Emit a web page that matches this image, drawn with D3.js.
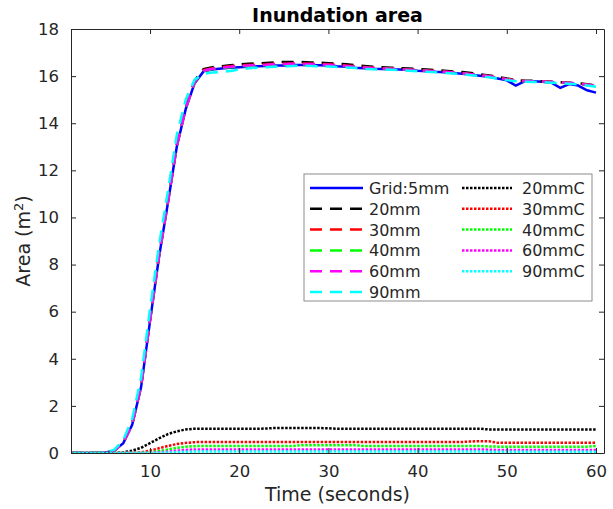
<!DOCTYPE html>
<html>
<head>
<meta charset="utf-8">
<script src="https://cdn.jsdelivr.net/npm/d3@7"></script>
<style>
  body { margin: 0; background: #fff; }
  text { font-family: "DejaVu Sans", sans-serif; }
</style>
</head>
<body>
<div id="chart"></div>
<script>
// time axis (seconds)
const time = [1,2,3,4,5,6,7,8,9,10,11,12,13,14,15,16,17,18,19,20,
  21,22,23,24,25,26,27,28,29,30,31,32,33,34,35,36,37,38,39,40,
  41,42,43,44,45,46,47,48,49,50,51,52,53,54,55,56,57,58,59,60];

// reference grid
const grid5 = [0,0,0,0,0.02,0.1,0.42,1.2,2.8,5.6,8.3,10.6,13.0,14.6,15.7,16.2,16.28,16.32,16.35,16.38,
  16.4,16.42,16.43,16.45,16.45,16.47,16.47,16.46,16.46,16.45,16.42,16.4,16.36,16.33,16.31,16.3,16.29,16.28,16.26,16.23,
  16.21,16.18,16.16,16.13,16.1,16.06,16.02,15.97,15.9,15.82,15.6,15.78,15.78,15.76,15.72,15.5,15.66,15.6,15.4,15.3];

// dashed runs
const mm20 = [0,0,0,0,0.02,0.1,0.45,1.25,2.9,5.7,8.4,10.7,13.1,14.7,15.8,16.3,16.38,16.42,16.46,16.5,
  16.52,16.54,16.56,16.58,16.6,16.6,16.6,16.58,16.57,16.55,16.52,16.5,16.46,16.43,16.4,16.38,16.36,16.34,16.32,16.3,
  16.28,16.25,16.23,16.2,16.17,16.13,16.08,16.03,15.97,15.9,15.84,15.8,15.8,15.78,15.76,15.74,15.72,15.7,15.66,15.6];
const mm30 = [0,0,0,0,0.02,0.1,0.44,1.22,2.85,5.65,8.35,10.65,13.05,14.65,15.75,16.25,16.33,16.38,16.42,16.45,
  16.47,16.49,16.5,16.52,16.53,16.54,16.54,16.53,16.52,16.5,16.47,16.45,16.42,16.39,16.36,16.34,16.32,16.3,16.28,16.26,
  16.24,16.21,16.19,16.16,16.13,16.09,16.05,16.0,15.94,15.87,15.82,15.79,15.78,15.77,15.75,15.73,15.71,15.68,15.64,15.58];
const mm40 = [0,0,0,0,0.02,0.1,0.44,1.22,2.85,5.65,8.35,10.65,13.05,14.65,15.75,16.22,16.3,16.35,16.38,16.41,
  16.43,16.45,16.46,16.48,16.49,16.5,16.5,16.49,16.48,16.46,16.44,16.42,16.39,16.36,16.33,16.31,16.3,16.28,16.26,16.24,
  16.22,16.19,16.17,16.14,16.11,16.07,16.03,15.98,15.92,15.86,15.8,15.78,15.77,15.76,15.74,15.72,15.7,15.67,15.62,15.57];
const mm60 = [0,0,0,0,0.02,0.1,0.44,1.22,2.85,5.65,8.35,10.65,13.05,14.65,15.75,16.23,16.31,16.36,16.4,16.43,
  16.45,16.47,16.48,16.5,16.51,16.52,16.52,16.51,16.5,16.48,16.45,16.43,16.4,16.37,16.34,16.32,16.31,16.29,16.27,16.25,
  16.23,16.2,16.18,16.15,16.12,16.08,16.04,15.99,15.93,15.86,15.81,15.79,15.78,15.77,15.75,15.73,15.71,15.68,15.63,15.58];
const mm90 = [0,0,0,0,0.03,0.14,0.55,1.45,3.2,6.1,8.8,11.1,13.5,15.0,15.85,16.1,16.15,16.18,16.22,16.28,
  16.33,16.36,16.38,16.4,16.42,16.43,16.44,16.43,16.42,16.41,16.39,16.37,16.34,16.31,16.29,16.28,16.27,16.25,16.23,16.21,
  16.19,16.16,16.14,16.11,16.08,16.04,16.0,15.95,15.89,15.83,15.78,15.76,15.75,15.74,15.72,15.7,15.68,15.65,15.6,15.55];

// dotted runs (C)
const mm20C = [0,0,0,0,0,0,0.03,0.1,0.22,0.42,0.62,0.8,0.92,1.0,1.03,1.03,1.03,1.03,1.03,1.03,
  1.03,1.03,1.04,1.06,1.06,1.06,1.06,1.06,1.06,1.05,1.03,1.03,1.03,1.03,1.03,1.03,1.03,1.03,1.03,1.03,
  1.03,1.03,1.03,1.03,1.03,1.03,1.03,1.0,1.0,1.0,1.0,1.0,1.0,1.0,1.0,1.0,1.0,1.0,1.0,1.0];
const mm30C = [0,0,0,0,0,0,0,0.01,0.03,0.1,0.2,0.3,0.38,0.43,0.46,0.47,0.47,0.47,0.47,0.47,
  0.47,0.47,0.47,0.47,0.47,0.47,0.47,0.47,0.47,0.47,0.47,0.47,0.47,0.47,0.47,0.47,0.47,0.47,0.47,0.47,
  0.47,0.47,0.47,0.47,0.47,0.49,0.5,0.5,0.43,0.43,0.43,0.43,0.43,0.43,0.43,0.43,0.43,0.43,0.43,0.43];
const mm40C = [0,0,0,0,0,0,0,0,0.01,0.03,0.08,0.15,0.22,0.27,0.29,0.3,0.3,0.3,0.3,0.3,
  0.3,0.3,0.3,0.3,0.3,0.3,0.33,0.33,0.33,0.33,0.33,0.33,0.33,0.3,0.3,0.3,0.3,0.3,0.3,0.3,
  0.3,0.3,0.3,0.3,0.3,0.3,0.3,0.28,0.27,0.27,0.27,0.27,0.27,0.27,0.27,0.27,0.27,0.27,0.27,0.3];
const mm60C = [0,0,0,0,0,0,0,0,0,0.01,0.03,0.06,0.1,0.13,0.15,0.15,0.15,0.15,0.15,0.15,
  0.15,0.15,0.15,0.15,0.15,0.15,0.15,0.15,0.15,0.15,0.15,0.15,0.15,0.15,0.15,0.15,0.15,0.15,0.15,0.15,
  0.15,0.15,0.15,0.15,0.15,0.15,0.15,0.14,0.13,0.13,0.13,0.13,0.13,0.13,0.13,0.13,0.13,0.13,0.13,0.13];
const mm90C = [0,0,0,0,0,0,0,0,0,0,0.01,0.02,0.04,0.05,0.06,0.06,0.06,0.06,0.06,0.06,
  0.06,0.06,0.06,0.06,0.06,0.06,0.06,0.06,0.06,0.06,0.06,0.06,0.06,0.06,0.06,0.06,0.06,0.06,0.06,0.06,
  0.06,0.06,0.06,0.06,0.06,0.06,0.06,0.05,0.05,0.05,0.05,0.05,0.05,0.05,0.05,0.05,0.05,0.05,0.05,0.05];

const xTicks = [10, 20, 30, 40, 50, 60];
const yTicks = [0, 2, 4, 6, 8, 10, 12, 14, 16, 18];

const series = [
  {name: "Grid:5mm", values: grid5, color: "#0000ff", style: "solid"},
  {name: "20mm", values: mm20, color: "#000000", style: "dash"},
  {name: "30mm", values: mm30, color: "#ff0000", style: "dash"},
  {name: "40mm", values: mm40, color: "#00ff00", style: "dash"},
  {name: "60mm", values: mm60, color: "#ff00ff", style: "dash"},
  {name: "90mm", values: mm90, color: "#00ffff", style: "dash"},
  {name: "20mmC", values: mm20C, color: "#000000", style: "dot"},
  {name: "30mmC", values: mm30C, color: "#ff0000", style: "dot"},
  {name: "40mmC", values: mm40C, color: "#00ff00", style: "dot"},
  {name: "60mmC", values: mm60C, color: "#ff00ff", style: "dot"},
  {name: "90mmC", values: mm90C, color: "#00ffff", style: "dot"}
];

const dashes = {solid: null, dash: "12,8", dot: "2.5,1.5"};

const W = 613, H = 509;
const margin = {top: 29, right: 9, bottom: 56, left: 71};
const width = W - margin.left - margin.right;
const height = H - margin.top - margin.bottom;

const svg = d3.select("#chart").append("svg")
  .attr("width", W)
  .attr("height", H);

const g = svg.append("g")
  .attr("transform", `translate(${margin.left},${margin.top})`);

const x = d3.scaleLinear().domain([1.14, 60.9]).range([0, width]);
const y = d3.scaleLinear().domain([0, 18]).range([height, 0]);

const axisColor = "#262626";

// data lines
const line = d3.line()
  .x((d, i) => x(time[i]))
  .y(d => y(d));

g.append("defs").append("clipPath").attr("id", "clip")
  .append("rect").attr("width", width).attr("height", height);

const plot = g.append("g").attr("clip-path", "url(#clip)");
series.forEach(s => {
  plot.append("path")
    .datum(s.values)
    .attr("d", line)
    .attr("fill", "none")
    .attr("stroke", s.color)
    .attr("stroke-width", 2.5)
    .attr("stroke-dasharray", dashes[s.style]);
});

// axes (MATLAB box style, ticks inside)
function styleAxis(sel) {
  sel.selectAll("path.domain").attr("stroke", axisColor).attr("stroke-width", 1);
  sel.selectAll(".tick line").attr("stroke", axisColor);
  sel.selectAll("text")
    .attr("fill", axisColor)
    .style("font-size", "16.5px")
    .style("font-family", "DejaVu Sans");
}

g.append("g")
  .attr("transform", `translate(0,${height})`)
  .call(d3.axisBottom(x).tickValues(xTicks).tickSizeInner(-5).tickSizeOuter(0).tickPadding(12))
  .call(styleAxis);

g.append("g")
  .call(d3.axisTop(x).tickValues(xTicks).tickSizeInner(-5).tickSizeOuter(0).tickFormat(""))
  .call(styleAxis);

g.append("g")
  .call(d3.axisLeft(y).tickValues(yTicks).tickSizeInner(-5).tickSizeOuter(0).tickPadding(12))
  .call(styleAxis);

g.append("g")
  .attr("transform", `translate(${width},0)`)
  .call(d3.axisRight(y).tickValues(yTicks).tickSizeInner(-5).tickSizeOuter(0).tickFormat(""))
  .call(styleAxis);

// title and labels
svg.append("text")
  .attr("x", margin.left + width / 2)
  .attr("y", 22)
  .attr("text-anchor", "middle")
  .style("font-size", "19px")
  .style("font-weight", "bold")
  .attr("fill", "#000")
  .text("Inundation area");

svg.append("text")
  .attr("x", margin.left + width / 2)
  .attr("y", 501)
  .attr("text-anchor", "middle")
  .style("font-size", "19px")
  .attr("fill", axisColor)
  .text("Time (seconds)");

const yl = svg.append("text")
  .attr("transform", `translate(30,${margin.top + height / 2}) rotate(-90)`)
  .attr("text-anchor", "middle")
  .style("font-size", "19px")
  .attr("fill", axisColor);
yl.append("tspan").text("Area (m");
yl.append("tspan").attr("baseline-shift", "super").style("font-size", "13px").text("2");
yl.append("tspan").text(")");

// legend, two columns
const legend = svg.append("g").attr("transform", "translate(304,174)");
legend.append("rect")
  .attr("width", 288)
  .attr("height", 127)
  .attr("fill", "#fff")
  .attr("stroke", "#8c8c8c")
  .attr("stroke-width", 1);

series.forEach((s, i) => {
  const col = i < 6 ? 0 : 1;
  const row = i < 6 ? i : i - 6;
  const lx = col === 0 ? 6 : 158;
  const ty = 14 + row * 20.8;
  const item = legend.append("g").attr("transform", `translate(${lx},${ty})`);
  item.append("line")
    .attr("x1", 0).attr("x2", col === 0 ? 53 : 50)
    .attr("y1", 0).attr("y2", 0)
    .attr("stroke", s.color)
    .attr("stroke-width", 2.5)
    .attr("stroke-dasharray", dashes[s.style]);
  item.append("text")
    .attr("x", col === 0 ? 59 : 60)
    .attr("y", 6)
    .style("font-size", "16px")
    .attr("fill", axisColor)
    .text(s.name);
});
</script>
</body>
</html>
